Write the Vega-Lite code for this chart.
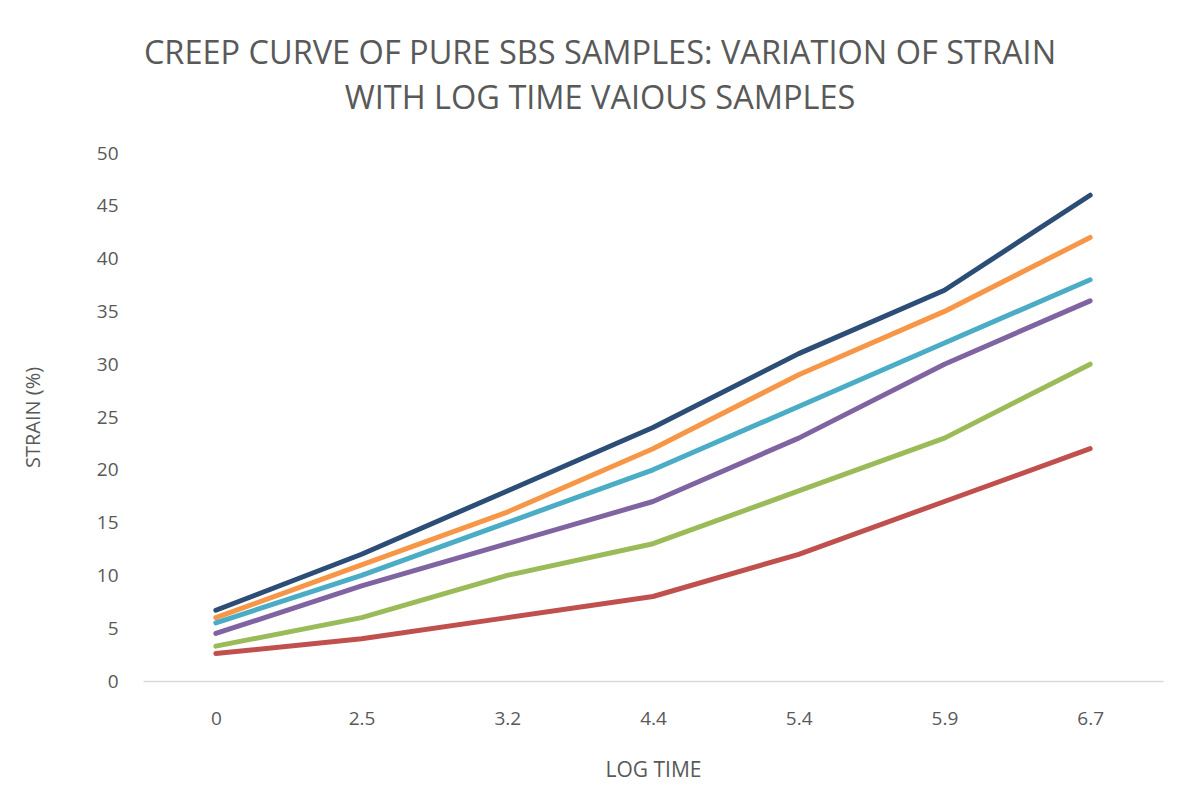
{
  "$schema": "https://vega.github.io/schema/vega-lite/v6.json",
  "autosize": "none",
  "width": 1020,
  "height": 528,
  "padding": {"left": 143, "top": 153, "right": 20, "bottom": 130},
  "background": "white",
  "config": {
    "view": {"stroke": null},
    "font": "Open Sans"
  },
  "title": {
    "text": ["CREEP CURVE OF PURE SBS SAMPLES: VARIATION OF STRAIN", "WITH LOG TIME VAIOUS SAMPLES"],
    "font": "Open Sans",
    "fontSize": 32.5,
    "fontWeight": "normal",
    "color": "#595959",
    "lineHeight": 45,
    "anchor": "middle",
    "dx": -53,
    "offset": 29
  },
  "data": {
    "values": [
      {"t": "0", "s": "S1", "v": 6.7}, {"t": "2.5", "s": "S1", "v": 12}, {"t": "3.2", "s": "S1", "v": 18}, {"t": "4.4", "s": "S1", "v": 24}, {"t": "5.4", "s": "S1", "v": 31}, {"t": "5.9", "s": "S1", "v": 37}, {"t": "6.7", "s": "S1", "v": 46},
      {"t": "0", "s": "S2", "v": 6.0}, {"t": "2.5", "s": "S2", "v": 11}, {"t": "3.2", "s": "S2", "v": 16}, {"t": "4.4", "s": "S2", "v": 22}, {"t": "5.4", "s": "S2", "v": 29}, {"t": "5.9", "s": "S2", "v": 35}, {"t": "6.7", "s": "S2", "v": 42},
      {"t": "0", "s": "S3", "v": 5.5}, {"t": "2.5", "s": "S3", "v": 10}, {"t": "3.2", "s": "S3", "v": 15}, {"t": "4.4", "s": "S3", "v": 20}, {"t": "5.4", "s": "S3", "v": 26}, {"t": "5.9", "s": "S3", "v": 32}, {"t": "6.7", "s": "S3", "v": 38},
      {"t": "0", "s": "S4", "v": 4.5}, {"t": "2.5", "s": "S4", "v": 9}, {"t": "3.2", "s": "S4", "v": 13}, {"t": "4.4", "s": "S4", "v": 17}, {"t": "5.4", "s": "S4", "v": 23}, {"t": "5.9", "s": "S4", "v": 30}, {"t": "6.7", "s": "S4", "v": 36},
      {"t": "0", "s": "S5", "v": 3.3}, {"t": "2.5", "s": "S5", "v": 6}, {"t": "3.2", "s": "S5", "v": 10}, {"t": "4.4", "s": "S5", "v": 13}, {"t": "5.4", "s": "S5", "v": 18}, {"t": "5.9", "s": "S5", "v": 23}, {"t": "6.7", "s": "S5", "v": 30},
      {"t": "0", "s": "S6", "v": 2.6}, {"t": "2.5", "s": "S6", "v": 4}, {"t": "3.2", "s": "S6", "v": 6}, {"t": "4.4", "s": "S6", "v": 8}, {"t": "5.4", "s": "S6", "v": 12}, {"t": "5.9", "s": "S6", "v": 17}, {"t": "6.7", "s": "S6", "v": 22}
    ]
  },
  "mark": {"type": "line", "strokeWidth": 5, "strokeCap": "round", "strokeJoin": "round"},
  "encoding": {
    "x": {
      "field": "t", "type": "ordinal",
      "sort": ["0", "2.5", "3.2", "4.4", "5.4", "5.9", "6.7"],
      "scale": {"type": "point", "padding": 0.5},
      "axis": {
        "title": "LOG TIME",
        "labelAngle": 0,
        "ticks": false,
        "grid": false,
        "domainColor": "#D9D9D9",
        "domainWidth": 1.5,
        "labelFont": "Open Sans",
        "labelFontSize": 19,
        "labelColor": "#595959",
        "labelPadding": 28,
        "titleFont": "Open Sans",
        "titleFontSize": 21,
        "titleFontWeight": "normal",
        "titleColor": "#595959",
        "titlePadding": 31
      }
    },
    "y": {
      "field": "v", "type": "quantitative",
      "scale": {"domain": [0, 50], "nice": false},
      "axis": {
        "title": "STRAIN (%)",
        "values": [0, 5, 10, 15, 20, 25, 30, 35, 40, 45, 50],
        "ticks": false,
        "domain": false,
        "grid": false,
        "labelFont": "Open Sans",
        "labelFontSize": 19,
        "labelColor": "#595959",
        "labelPadding": 25,
        "titleFont": "Open Sans",
        "titleFontSize": 20,
        "titleFontWeight": "normal",
        "titleColor": "#595959",
        "titlePadding": 53
      }
    },
    "color": {
      "field": "s", "type": "nominal",
      "scale": {
        "domain": ["S1", "S2", "S3", "S4", "S5", "S6"],
        "range": ["#2C4D75", "#F79646", "#4BACC6", "#8064A2", "#9BBB59", "#C0504D"]
      },
      "legend": null
    },
    "order": {"field": "t"}
  }
}
